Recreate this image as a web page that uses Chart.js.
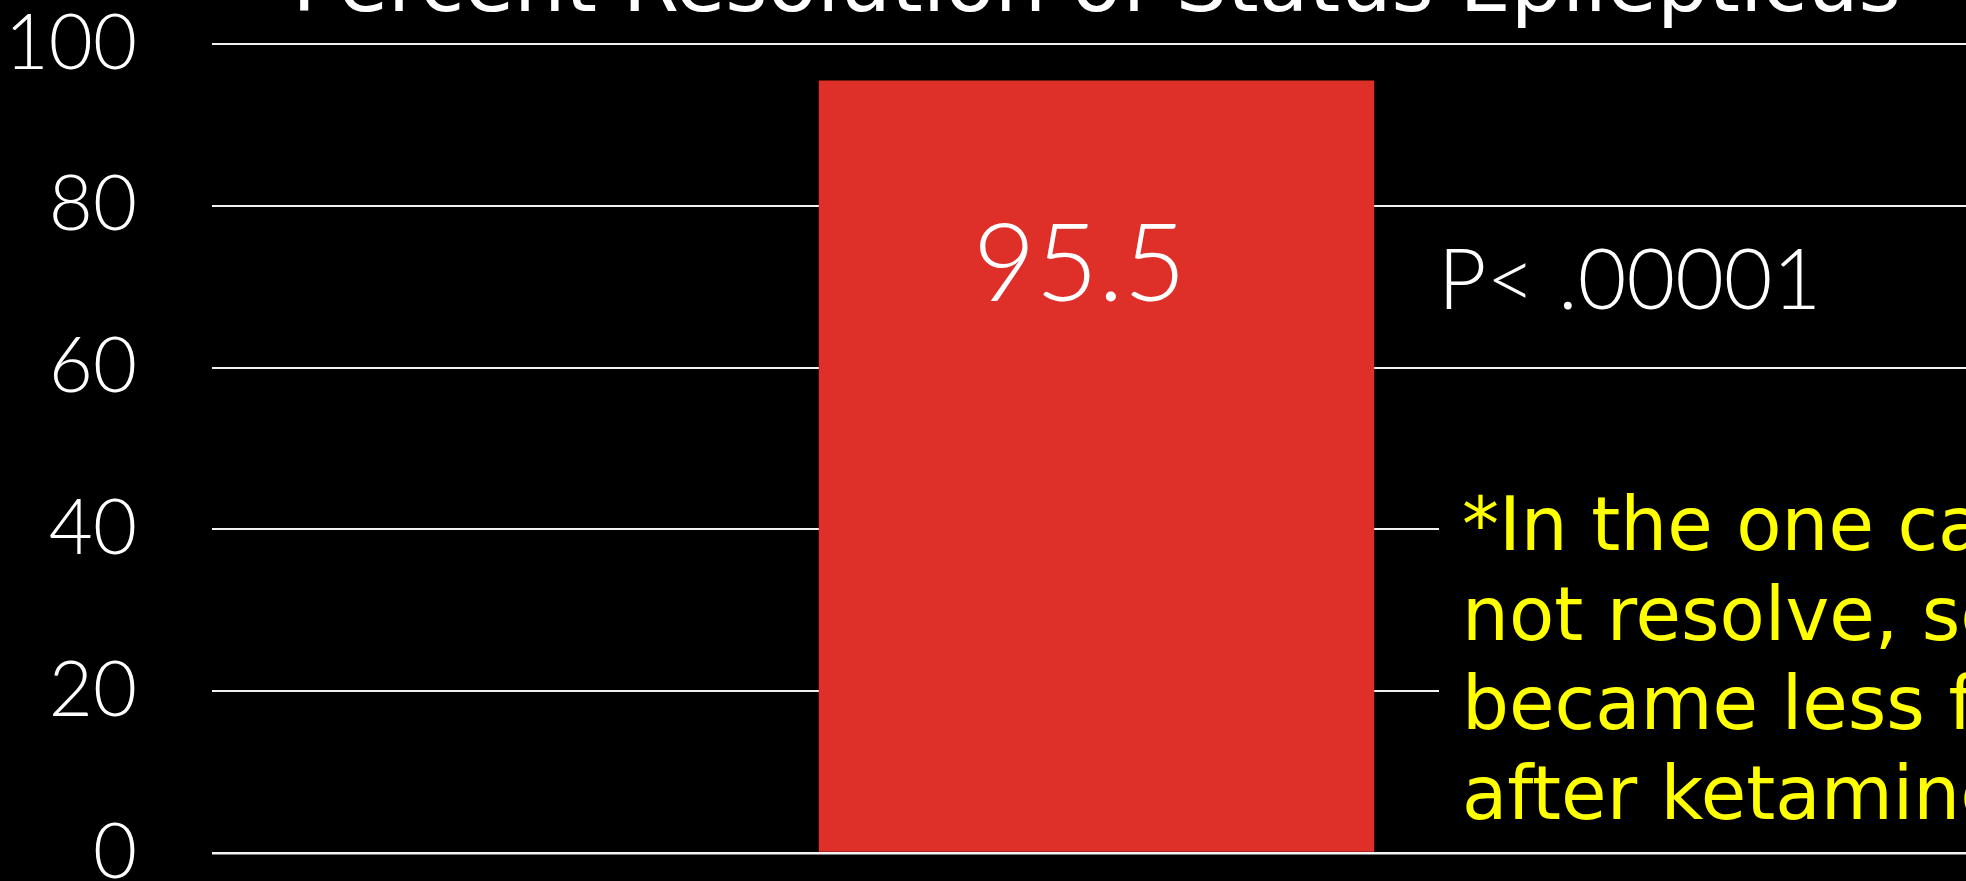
<!DOCTYPE html>
<html>
<head>
<meta charset="utf-8">
<script src="https://cdn.jsdelivr.net/npm/chart.js@4/dist/chart.umd.min.js"></script>
<style>
  html, body { margin: 0; padding: 0; background: #000; overflow: hidden; }
  /* plot runs a bit past the right edge, like the cropped slide */
  #wrap { position: relative; width: 1981px; height: 881px; }
</style>
</head>
<body>
<div id="wrap"><canvas id="chart"></canvas></div>
<script>
// data
const chartTitle = 'Percent Resolution of Status Epilepticus';
const categories = ['Ketamine'];
const resolvedPct = [95.5];
const yTickValues = [0, 20, 40, 60, 80, 100];
const pText = 'P< .00001';
const noteLines = [
    '*In the one case that did',
    'not resolve, seizures',
    'became less frequent',
    'after ketamine'
];

const numFont = 'Lato, "DejaVu Sans", sans-serif';
const textFont = '"DejaVu Sans", sans-serif';

// title, bar label, p value and the yellow footnote
const overlay = {
    id: 'overlay',
    afterDraw(chart) {
        const ctx = chart.ctx;
        const bar = chart.getDatasetMeta(0).data[0];
        ctx.save();
        ctx.fillStyle = '#fff';
        ctx.textBaseline = 'alphabetic';

        ctx.textAlign = 'center';
        ctx.font = '81px ' + textFont;
        ctx.fillText(chartTitle, bar.x, 11);

        ctx.font = '300 108px ' + numFont;
        ctx.fillText(resolvedPct[0].toFixed(1), bar.x - 17, bar.y + 221);

        ctx.textAlign = 'left';
        ctx.font = '300 84px ' + numFont;
        ctx.fillText(pText, 1438, 309);

        // footnote sits on a black box that hides the grid lines
        ctx.fillStyle = '#000';
        ctx.fillRect(1439, 470, 600, 360);
        ctx.fillStyle = '#ffff00';
        ctx.font = '74px ' + textFont;
        noteLines.forEach((line, i) => ctx.fillText(line, 1462, 550 + i * 89.5));
        ctx.restore();
    }
};

new Chart(document.getElementById('chart').getContext('2d'), {
    type: 'bar',
    data: {
        labels: categories,
        datasets: [{
            label: 'Resolved (%)',
            data: resolvedPct,
            backgroundColor: '#df2f29',
            borderWidth: 0,
            categoryPercentage: 1,
            barPercentage: 0.314
        }]
    },
    options: {
        responsive: true,
        maintainAspectRatio: false,
        animation: false,
        layout: { padding: { top: 44, bottom: 28, left: 0, right: 0 } },
        plugins: {
            legend: { display: false },
            title: { display: false },
            tooltip: { enabled: false }
        },
        scales: {
            x: { display: false },
            y: {
                min: 0,
                max: 100,
                afterBuildTicks: s => { s.ticks = yTickValues.map(v => ({ value: v })); },
                afterFit: s => { s.width = 212; },
                border: { display: false },
                // invisible tick marks make the gap between labels and grid
                grid: {
                    color: '#f2f2f2',
                    lineWidth: c => (c.tick && c.tick.value === 0 ? 2.5 : 2),
                    drawTicks: true,
                    tickLength: 75,
                    tickColor: 'rgba(0,0,0,0)'
                },
                ticks: {
                    color: '#fff',
                    padding: 0,
                    font: { family: numFont, size: 76, weight: '300', lineHeight: 0.6 }
                }
            }
        }
    },
    plugins: [overlay]
});
</script>
</body>
</html>
